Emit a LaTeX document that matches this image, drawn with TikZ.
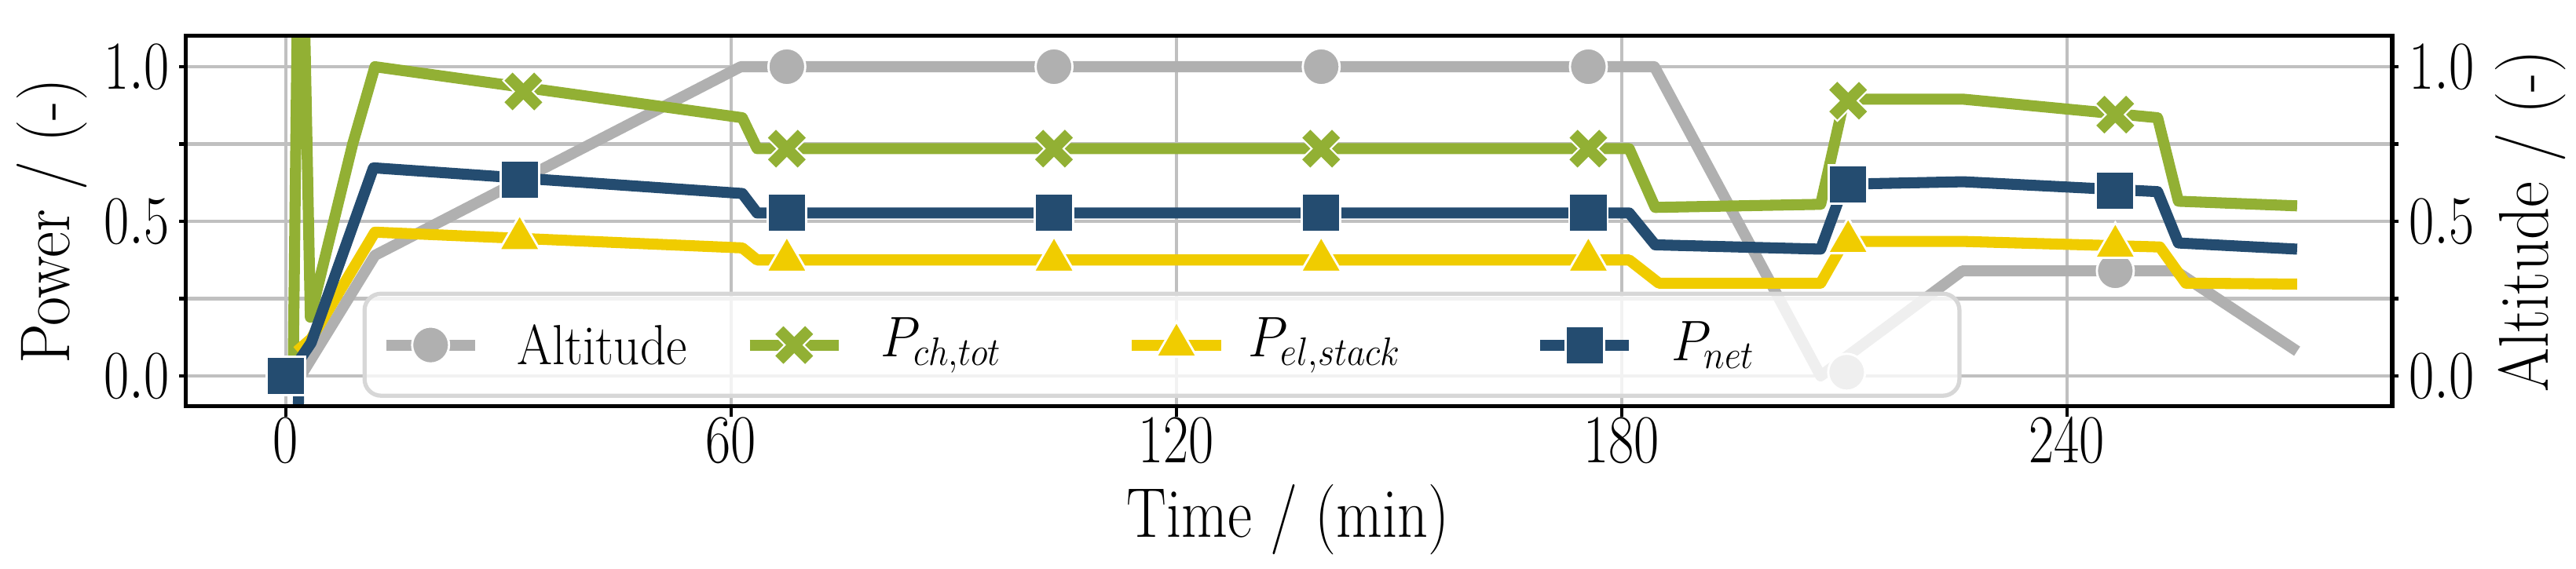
\documentclass[tikz,border=0pt]{standalone}
\usetikzlibrary{shapes.geometric}
\definecolor{cgray}{HTML}{B0B0B0}
\definecolor{cgreen}{HTML}{92B034}
\definecolor{cyell}{HTML}{F0CC00}
\definecolor{cblue}{HTML}{244C70}
\begin{document}
\begin{tikzpicture}[
  ser/.style={line width=4pt,line join=round},
  circ/.style={circle,fill=cgray,draw=white,line width=0.8pt,minimum size=0.47cm,inner sep=0},
  sq/.style={rectangle,fill=cblue,draw=white,line width=0.8pt,minimum size=0.49cm,inner sep=0},
  tri/.style={regular polygon,regular polygon sides=3,fill=cyell,draw=white,line width=0.8pt,minimum size=0.6cm,inner sep=0},
  pics/xmark/.style={code={\fill[cgreen,draw=white,line width=0.6pt] (0cm,0.12cm) -- (0.138cm,0.258cm) -- (0.258cm,0.138cm) -- (0.12cm,0cm) -- (0.258cm,-0.138cm) -- (0.138cm,-0.258cm) -- (0cm,-0.12cm) -- (-0.138cm,-0.258cm) -- (-0.258cm,-0.138cm) -- (-0.12cm,0cm) -- (-0.258cm,0.138cm) -- (-0.138cm,0.258cm) -- cycle;}},
  tick/.style={font=\fontsize{26}{31}\selectfont,xscale=0.8},
  lab/.style={font=\fontsize{25.5}{31}\selectfont},
  leg/.style={font=\fontsize{20.5}{25}\selectfont,xscale=0.9,anchor=west},
  grid/.style={cgray!80,line width=1.2pt}
]
\useasboundingbox (0,0) rectangle (32.8,7.24);
\begin{scope}[x=0.0945cm,y=3.94cm,shift={(3.64cm,2.45cm)}]
  \foreach \t in {0,60,120,180,240} \draw[grid] (\t,-0.097) -- (\t,1.1);
  \foreach \v in {0,0.25,0.5,0.75,1} \draw[grid] (-13.5,\v) -- (283.8,\v);
  \begin{scope}
  \clip (-13.5,-0.097) rectangle (283.8,1.1);
  \draw[ser,cgray] (2,0) -- (12,0.39) -- (61.3,1) -- (184.4,1) -- (206.8,0) -- (225.9,0.34) -- (254.6,0.34) -- (271,0.08);
  \foreach \t/\v [count=\i] in {31.5/0.63,67.5/1,103.5/1,139.5/1,175.5/1,210.3/0.012,246.5/0.34}
    \node[circ] (c\i) at (\t,\v) {};
  \draw[ser,cgreen] (1,0.05) -- (1.6,1.3) -- (2.4,1.3) -- (3.3,0.19) -- (9,0.75) -- (12,1.0) -- (61.5,0.835) -- (63.5,0.735) -- (181,0.735) -- (184.5,0.545) -- (206.8,0.555) -- (210,0.895) -- (226,0.895) -- (252.2,0.835) -- (255,0.565) -- (271,0.55);
  \draw[ser,cyell] (1.5,0.08) -- (3.4,0.12) -- (12,0.465) -- (61.5,0.414) -- (63.5,0.375) -- (181,0.375) -- (185,0.30) -- (206.8,0.30) -- (210,0.435) -- (226,0.435) -- (252.5,0.417) -- (256,0.30) -- (271,0.297);
  \draw[ser,cblue] (1.6,-0.2) -- (1.8,0.05) -- (3.4,0.107) -- (11.8,0.673) -- (61.5,0.59) -- (63.5,0.527) -- (181,0.527) -- (184.5,0.424) -- (206.8,0.41) -- (210,0.62) -- (226,0.628) -- (252.2,0.596) -- (255,0.43) -- (271,0.41);
  \foreach \t/\v [count=\i] in {32/0.92,67.5/0.735,103.5/0.735,139.5/0.735,175.5/0.735,210.5/0.89,246.5/0.845}
    \pic (x\i) at (\t,\v) {xmark};
  \foreach \t/\v [count=\i] in {31.5/0.445,67.5/0.375,103.5/0.375,139.5/0.375,175.5/0.375,210.5/0.435,246.5/0.42}
    \node[tri] (t\i) at (\t,\v) {};
  \foreach \t/\v [count=\i] in {0/0,31.5/0.635,67.5/0.527,103.5/0.527,139.5/0.527,175.5/0.527,210.5/0.62,246.5/0.6}
    \node[sq] (s\i) at (\t,\v) {};
  \end{scope}
  \draw[line width=1.5pt] (-13.5,-0.097) rectangle (283.8,1.1);
  \foreach \t in {0,60,120,180,240} {
    \draw[line width=1.2pt] (\t,-0.097) -- ++(0,-0.035);
    \node[tick] (xt\t) at (\t,-0.208) {$\t$};}
  \foreach \v in {0,0.25,0.5,0.75,1} {
    \draw[line width=1.2pt] (-13.5,\v) -- ++(-0.9,0);
    \draw[line width=1.2pt] (283.8,\v) -- ++(0.9,0);}
  \foreach \v/\l in {0/0.0,0.5/0.5,1/1.0} {
    \node[tick,anchor=east,inner sep=0] (yl\l) at (-15.6,\v) {$\l$};
    \node[tick,anchor=west,inner sep=0] (yr\l) at (286,\v) {$\l$};}
  % legend
  \draw[cgray!50,line width=1.5pt,rounded corners=6pt,fill=white,fill opacity=0.8] (10.6,0.266) rectangle (225.5,-0.064);
  \draw[ser,cgray,line cap=butt] (13.5,0.1) -- (25.5,0.1); \node[circ] (lc) at (19.5,0.1) {};
  \node[leg] (ltA) at (30,0.1) {Altitude};
  \draw[ser,cgreen,line cap=butt] (62.5,0.1) -- (74.5,0.1); \pic (lx) at (68.5,0.1) {xmark};
  \node[leg] (ltB) at (79,0.1) {$P_{ch,tot}$};
  \draw[ser,cyell,line cap=butt] (114,0.1) -- (126,0.1); \node[tri] (lt) at (120,0.1) {};
  \node[leg] (ltC) at (128.5,0.1) {$P_{el,stack}$};
  \draw[ser,cblue,line cap=butt] (169,0.1) -- (181,0.1); \node[sq] (ls) at (175,0.1) {};
  \node[leg] (ltD) at (185.5,0.1) {$P_{net}$};
\end{scope}
\node[lab,rotate=90,xscale=0.9,anchor=base] (ylab) at (0.88,4.42) {Power / (-)};
\node[lab,rotate=90,xscale=0.9,anchor=base] (y2lab) at (32.44,4.42) {Altitude / (-)};
\node[lab,xscale=0.85,anchor=base] (xlab) at (16.4,0.40) {Time / (min)};
\end{tikzpicture}
\end{document}
